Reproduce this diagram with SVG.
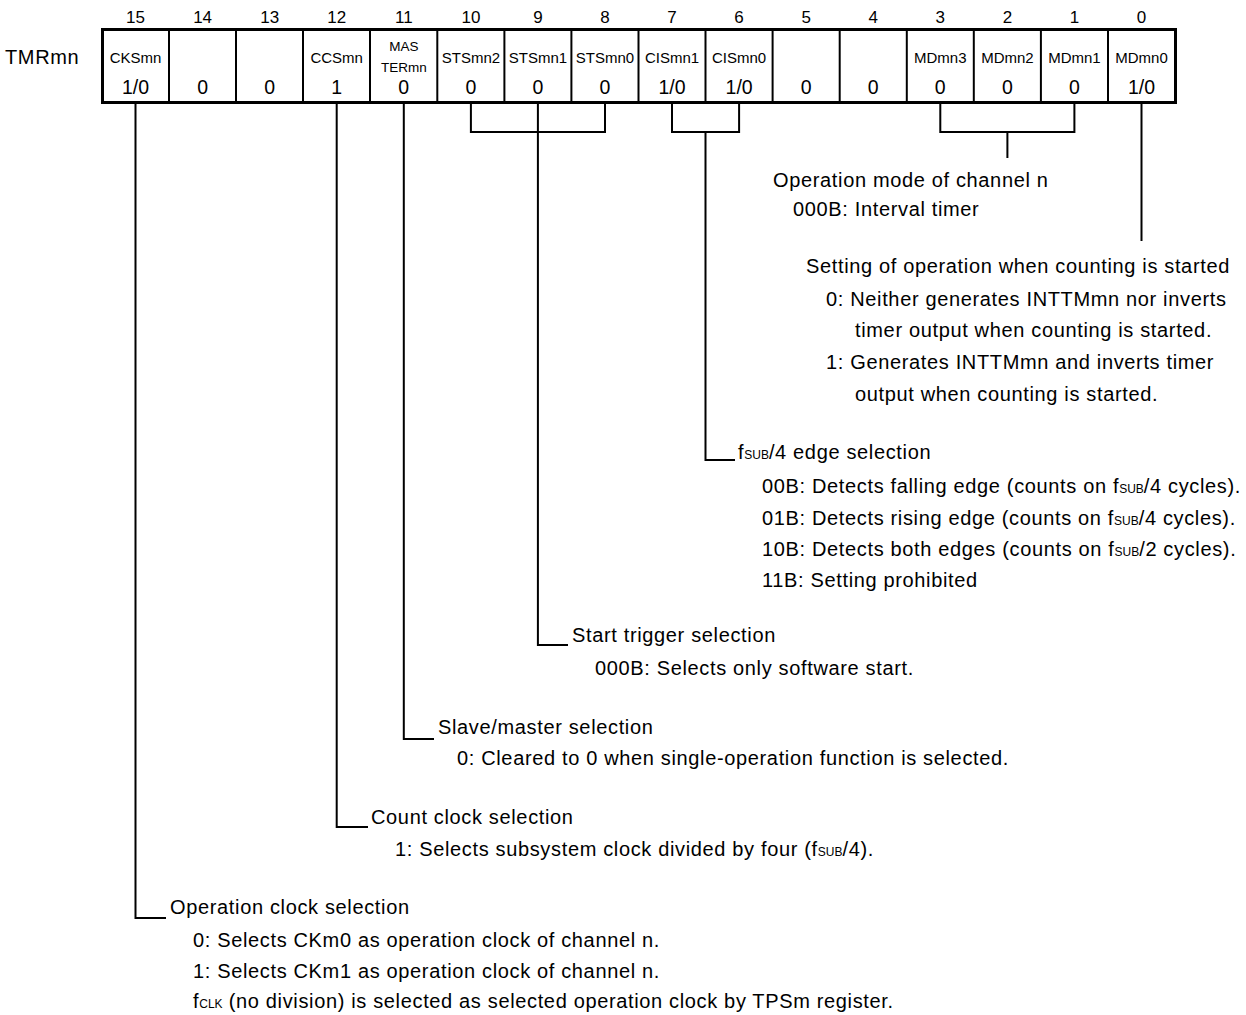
<svg xmlns="http://www.w3.org/2000/svg" width="1246" height="1015" viewBox="0 0 1246 1015">
<style>
text{font-family:"Liberation Sans",Arial,sans-serif;fill:#000}
.bn{font-size:17px;text-anchor:middle}
.nm{font-size:15px;text-anchor:middle}
.nm2{font-size:13.5px;text-anchor:middle}
.v{font-size:19.5px;text-anchor:middle}
.t{font-size:20px;letter-spacing:0.65px}
.s{font-size:12px;letter-spacing:0}
.div{stroke:#000;stroke-width:2}
.ln{stroke:#000;stroke-width:2;fill:none}
</style>
<rect width="1246" height="1015" fill="#fff"/>
<g id="register">
<text x="5" y="64" style="font-size:20px;letter-spacing:0.65px">TMRmn</text>
<g id="bitnums" class="bn">
<text x="135.5" y="23">15</text><text x="202.6" y="23">14</text><text x="269.7" y="23">13</text><text x="336.7" y="23">12</text>
<text x="403.8" y="23">11</text><text x="470.9" y="23">10</text><text x="537.9" y="23">9</text><text x="605" y="23">8</text>
<text x="672" y="23">7</text><text x="739.1" y="23">6</text><text x="806.2" y="23">5</text><text x="873.2" y="23">4</text>
<text x="940.3" y="23">3</text><text x="1007.4" y="23">2</text><text x="1074.4" y="23">1</text><text x="1141.5" y="23">0</text>
</g>
<g id="cells">
<line class="div" x1="169" y1="29" x2="169" y2="103"/><line class="div" x1="236" y1="29" x2="236" y2="103"/>
<line class="div" x1="303" y1="29" x2="303" y2="103"/><line class="div" x1="370" y1="29" x2="370" y2="103"/>
<line class="div" x1="437.3" y1="29" x2="437.3" y2="103"/><line class="div" x1="504.4" y1="29" x2="504.4" y2="103"/>
<line class="div" x1="571.4" y1="29" x2="571.4" y2="103"/><line class="div" x1="638.5" y1="29" x2="638.5" y2="103"/>
<line class="div" x1="705.5" y1="29" x2="705.5" y2="103"/><line class="div" x1="772.6" y1="29" x2="772.6" y2="103"/>
<line class="div" x1="839.7" y1="29" x2="839.7" y2="103"/><line class="div" x1="906.8" y1="29" x2="906.8" y2="103"/>
<line class="div" x1="973.8" y1="29" x2="973.8" y2="103"/><line class="div" x1="1040.9" y1="29" x2="1040.9" y2="103"/>
<line class="div" x1="1108" y1="29" x2="1108" y2="103"/>
<rect x="102.5" y="29.5" width="1073" height="73" fill="none" stroke="#000" stroke-width="3"/>
</g>
<g id="names">
<text class="nm" x="135.5" y="62.5">CKSmn</text>
<text class="nm" x="336.7" y="62.5">CCSmn</text>
<text class="nm2" x="403.8" y="51">MAS</text>
<text class="nm2" x="403.8" y="71.5">TERmn</text>
<text class="nm" x="470.9" y="62.5">STSmn2</text>
<text class="nm" x="537.9" y="62.5">STSmn1</text>
<text class="nm" x="605" y="62.5">STSmn0</text>
<text class="nm" x="672" y="62.5">CISmn1</text>
<text class="nm" x="739.1" y="62.5">CISmn0</text>
<text class="nm" x="940.3" y="62.5">MDmn3</text>
<text class="nm" x="1007.4" y="62.5">MDmn2</text>
<text class="nm" x="1074.4" y="62.5">MDmn1</text>
<text class="nm" x="1141.5" y="62.5">MDmn0</text>
</g>
<g id="values" class="v">
<text x="135.5" y="94">1/0</text><text x="202.6" y="94">0</text><text x="269.7" y="94">0</text><text x="336.7" y="94">1</text>
<text x="403.8" y="94">0</text><text x="470.9" y="94">0</text><text x="537.9" y="94">0</text><text x="605" y="94">0</text>
<text x="672" y="94">1/0</text><text x="739.1" y="94">1/0</text><text x="806.2" y="94">0</text><text x="873.2" y="94">0</text>
<text x="940.3" y="94">0</text><text x="1007.4" y="94">0</text><text x="1074.4" y="94">0</text><text x="1141.5" y="94">1/0</text>
</g>
</g>
<g id="connectors">
<path class="ln" d="M940.3 103V132H1074.4V103M1007.4 132V158"/>
<path class="ln" d="M1141.5 103V241"/>
<path class="ln" d="M672 103V132H739.1V103M705.5 132V460H735"/>
<path class="ln" d="M470.9 103V132H605V103M537.9 103V645H568"/>
<path class="ln" d="M403.8 103V739H434"/>
<path class="ln" d="M336.7 103V827H368"/>
<path class="ln" d="M135.5 103V918H166"/>
</g>
<g id="mode">
<text class="t" x="773" y="187">Operation mode of channel n</text>
<text class="t" x="793" y="216">000B: Interval timer</text>
</g>
<g id="start-setting">
<text class="t" x="806" y="273">Setting of operation when counting is started</text>
<text class="t" x="826" y="306">0: Neither generates INTTMmn nor inverts</text>
<text class="t" x="855" y="337">timer output when counting is started.</text>
<text class="t" x="826" y="369">1: Generates INTTMmn and inverts timer</text>
<text class="t" x="855" y="401">output when counting is started.</text>
</g>
<g id="edge">
<text class="t" x="738" y="459">f<tspan class="s">SUB</tspan>/4 edge selection</text>
<text class="t" x="762" y="493">00B: Detects falling edge (counts on f<tspan class="s">SUB</tspan>/4 cycles).</text>
<text class="t" x="762" y="525">01B: Detects rising edge (counts on f<tspan class="s">SUB</tspan>/4 cycles).</text>
<text class="t" x="762" y="556">10B: Detects both edges (counts on f<tspan class="s">SUB</tspan>/2 cycles).</text>
<text class="t" x="762" y="587">11B: Setting prohibited</text>
</g>
<g id="trigger">
<text class="t" x="572" y="642">Start trigger selection</text>
<text class="t" x="595" y="675">000B: Selects only software start.</text>
</g>
<g id="master">
<text class="t" x="438" y="734">Slave/master selection</text>
<text class="t" x="457" y="765">0: Cleared to 0 when single-operation function is selected.</text>
</g>
<g id="countclk">
<text class="t" x="371" y="824">Count clock selection</text>
<text class="t" x="395" y="856">1: Selects subsystem clock divided by four (f<tspan class="s">SUB</tspan>/4).</text>
</g>
<g id="opclk">
<text class="t" x="170" y="914">Operation clock selection</text>
<text class="t" x="193" y="947">0: Selects CKm0 as operation clock of channel n.</text>
<text class="t" x="193" y="978">1: Selects CKm1 as operation clock of channel n.</text>
<text class="t" x="193" y="1008">f<tspan class="s">CLK</tspan> (no division) is selected as selected operation clock by TPSm register.</text>
</g>
</svg>
